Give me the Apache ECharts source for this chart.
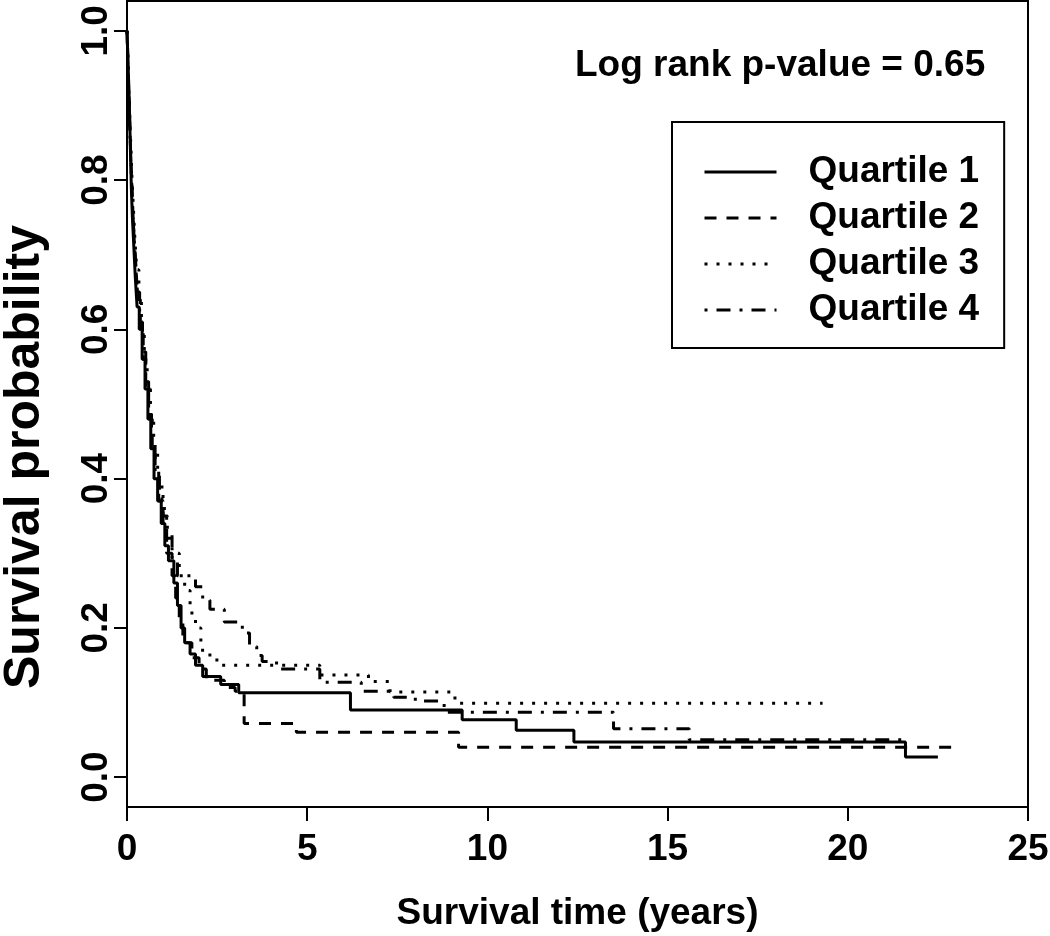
<!DOCTYPE html>
<html><head><meta charset="utf-8">
<script src="https://cdn.jsdelivr.net/npm/echarts@6/dist/echarts.min.js"></script>
<style>html,body{margin:0;padding:0;background:#fff}#c{width:1050px;height:936px}</style>
</head><body><div id="c"></div>
<script>
const seriesNames = ['Quartile 1', 'Quartile 2', 'Quartile 3', 'Quartile 4'];

const q1Time = [0,0.02,0.04,0.06,0.08,0.10,0.12,0.15,0.19,0.23,0.28,0.34,0.42,0.50,0.58,0.66,0.75,0.85,0.95,1.05,1.15,1.30,1.40,1.50,1.60,1.75,1.90,2.10,2.60,3.10,6.20,9.30,10.80,12.40,21.60,22.50];
const q1Surv = [1.0,0.97,0.94,0.91,0.87,0.83,0.79,0.75,0.71,0.67,0.63,0.60,0.56,0.52,0.48,0.44,0.40,0.37,0.34,0.31,0.29,0.26,0.23,0.20,0.18,0.165,0.15,0.135,0.124,0.113,0.09,0.077,0.063,0.047,0.027,0.027];

const q2Time = [0,0.02,0.05,0.07,0.10,0.13,0.16,0.20,0.25,0.30,0.37,0.45,0.52,0.60,0.70,0.78,0.88,1.00,1.10,1.25,1.35,1.45,1.55,1.80,2.00,2.20,2.70,3.00,3.25,4.70,9.20,23.10];
const q2Surv = [1.0,0.96,0.92,0.88,0.84,0.80,0.76,0.72,0.68,0.64,0.60,0.56,0.52,0.48,0.44,0.41,0.37,0.33,0.30,0.27,0.24,0.21,0.18,0.16,0.145,0.13,0.12,0.115,0.072,0.06,0.04,0.04];

const q3Time = [0,0.03,0.05,0.08,0.11,0.14,0.18,0.22,0.27,0.33,0.40,0.48,0.56,0.65,0.74,0.85,0.97,1.10,1.25,1.45,1.60,1.75,1.90,2.05,2.30,2.60,5.35,6.70,7.30,9.10,19.30];
const q3Surv = [1.0,0.96,0.92,0.88,0.84,0.80,0.76,0.72,0.68,0.64,0.60,0.56,0.52,0.48,0.44,0.40,0.36,0.33,0.30,0.27,0.25,0.22,0.20,0.17,0.157,0.15,0.137,0.128,0.114,0.099,0.099];

const q4Time = [0,0.02,0.04,0.07,0.09,0.12,0.15,0.19,0.24,0.29,0.35,0.43,0.52,0.60,0.68,0.78,0.90,1.00,1.12,1.25,1.40,1.90,2.10,2.30,2.70,3.20,3.40,3.60,3.75,4.15,5.35,6.50,7.40,8.00,8.80,13.50,15.60,21.50];
const q4Surv = [1.0,0.97,0.93,0.89,0.85,0.81,0.77,0.73,0.69,0.65,0.61,0.57,0.53,0.49,0.45,0.41,0.38,0.35,0.32,0.29,0.27,0.255,0.237,0.225,0.208,0.193,0.175,0.163,0.155,0.145,0.127,0.115,0.107,0.102,0.087,0.065,0.05,0.05];

const yTickValues = [0, 0.2, 0.4, 0.6, 0.8, 1.0];
const yTickLabels = ['0.0', '0.2', '0.4', '0.6', '0.8', '1.0'];
const xTickLabels = ['0', '5', '10', '15', '20', '25'];
const annotation = 'Log rank p-value = 0.65';

const FONT = '"Liberation Sans", Arial, sans-serif';
const dashes = ['solid', [12, 10], [3, 9], [3, 9, 14, 9]];
const times = [q1Time, q2Time, q3Time, q4Time];
const survs = [q1Surv, q2Surv, q3Surv, q4Surv];

const chart = echarts.init(document.getElementById('c'), null, {renderer: 'canvas'});
const series = seriesNames.map((name, i) => ({
  name: name,
  type: 'line',
  step: 'end',
  symbol: 'none',
  showSymbol: false,
  silent: true,
  animation: false,
  data: times[i].map((t, k) => [t, survs[i][k]]),
  lineStyle: {color: '#000', width: 3, type: dashes[i], cap: 'butt'},
  itemStyle: {color: '#000'}
}));

chart.setOption({
  backgroundColor: '#fff',
  animation: false,
  grid: {left: 127, top: 1, right: 22, bottom: 129, containLabel: false, outerBoundsMode: 'none',
    show: true, borderColor: '#000', borderWidth: 2, backgroundColor: 'transparent'},
  xAxis: {
    type: 'value', min: 0, max: 25, interval: 5,
    axisLine: {show: true, onZero: false, lineStyle: {color: '#000', width: 2}},
    axisTick: {show: true, length: 14, lineStyle: {color: '#000', width: 2}},
    axisLabel: {margin: 24, fontSize: 37, fontWeight: 'bold', fontFamily: FONT, color: '#000',
      formatter: v => xTickLabels[Math.round(v / 5)] ?? ''},
    splitLine: {show: false},
    name: 'Survival time (years)', nameLocation: 'middle', nameGap: 88,
    nameTextStyle: {fontSize: 37, fontWeight: 'bold', fontFamily: FONT, color: '#000'}
  },
  yAxis: {
    type: 'value', min: -0.04, max: 1.04,
    axisLine: {show: true, onZero: false, lineStyle: {color: '#000', width: 2}},
    axisTick: {show: true, length: 13, customValues: yTickValues, lineStyle: {color: '#000', width: 2}},
    axisLabel: {margin: 12, rotate: 90, customValues: yTickValues, fontSize: 37, fontWeight: 'bold', fontFamily: FONT, color: '#000',
      formatter: v => { const k = yTickValues.findIndex(x => Math.abs(x - v) < 1e-6); return k >= 0 ? yTickLabels[k] : ''; }},
    splitLine: {show: false},
    name: 'Survival probability', nameLocation: 'middle', nameGap: 77, nameRotate: 90,
    nameTextStyle: {fontSize: 50, fontWeight: 'bold', fontFamily: FONT, color: '#000', padding: [0, 106, 0, 0]}
  },
  legend: {
    data: seriesNames, orient: 'vertical', left: 672, top: 122,
    selectedMode: false, backgroundColor: '#fff', borderColor: '#000', borderWidth: 2, borderRadius: 0,
    padding: [30, 25, 18, 31], itemWidth: 72, itemHeight: 20, itemGap: 6,
    itemStyle: {color: 'transparent', borderWidth: 0, opacity: 0},
    lineStyle: {color: '#000', width: 3, cap: 'butt'},
    textStyle: {fontSize: 37, fontWeight: 'bold', fontFamily: FONT, color: '#000', lineHeight: 40, padding: [0, 0, 0, 27]}
  },
  graphic: [{
    type: 'text', x: 575, y: 66, silent: true,
    style: {text: annotation, fontSize: 37, fontWeight: 'bold', fontFamily: FONT, fill: '#000', align: 'left', verticalAlign: 'middle'}
  }],
  series: series
});
</script>
</body></html>
